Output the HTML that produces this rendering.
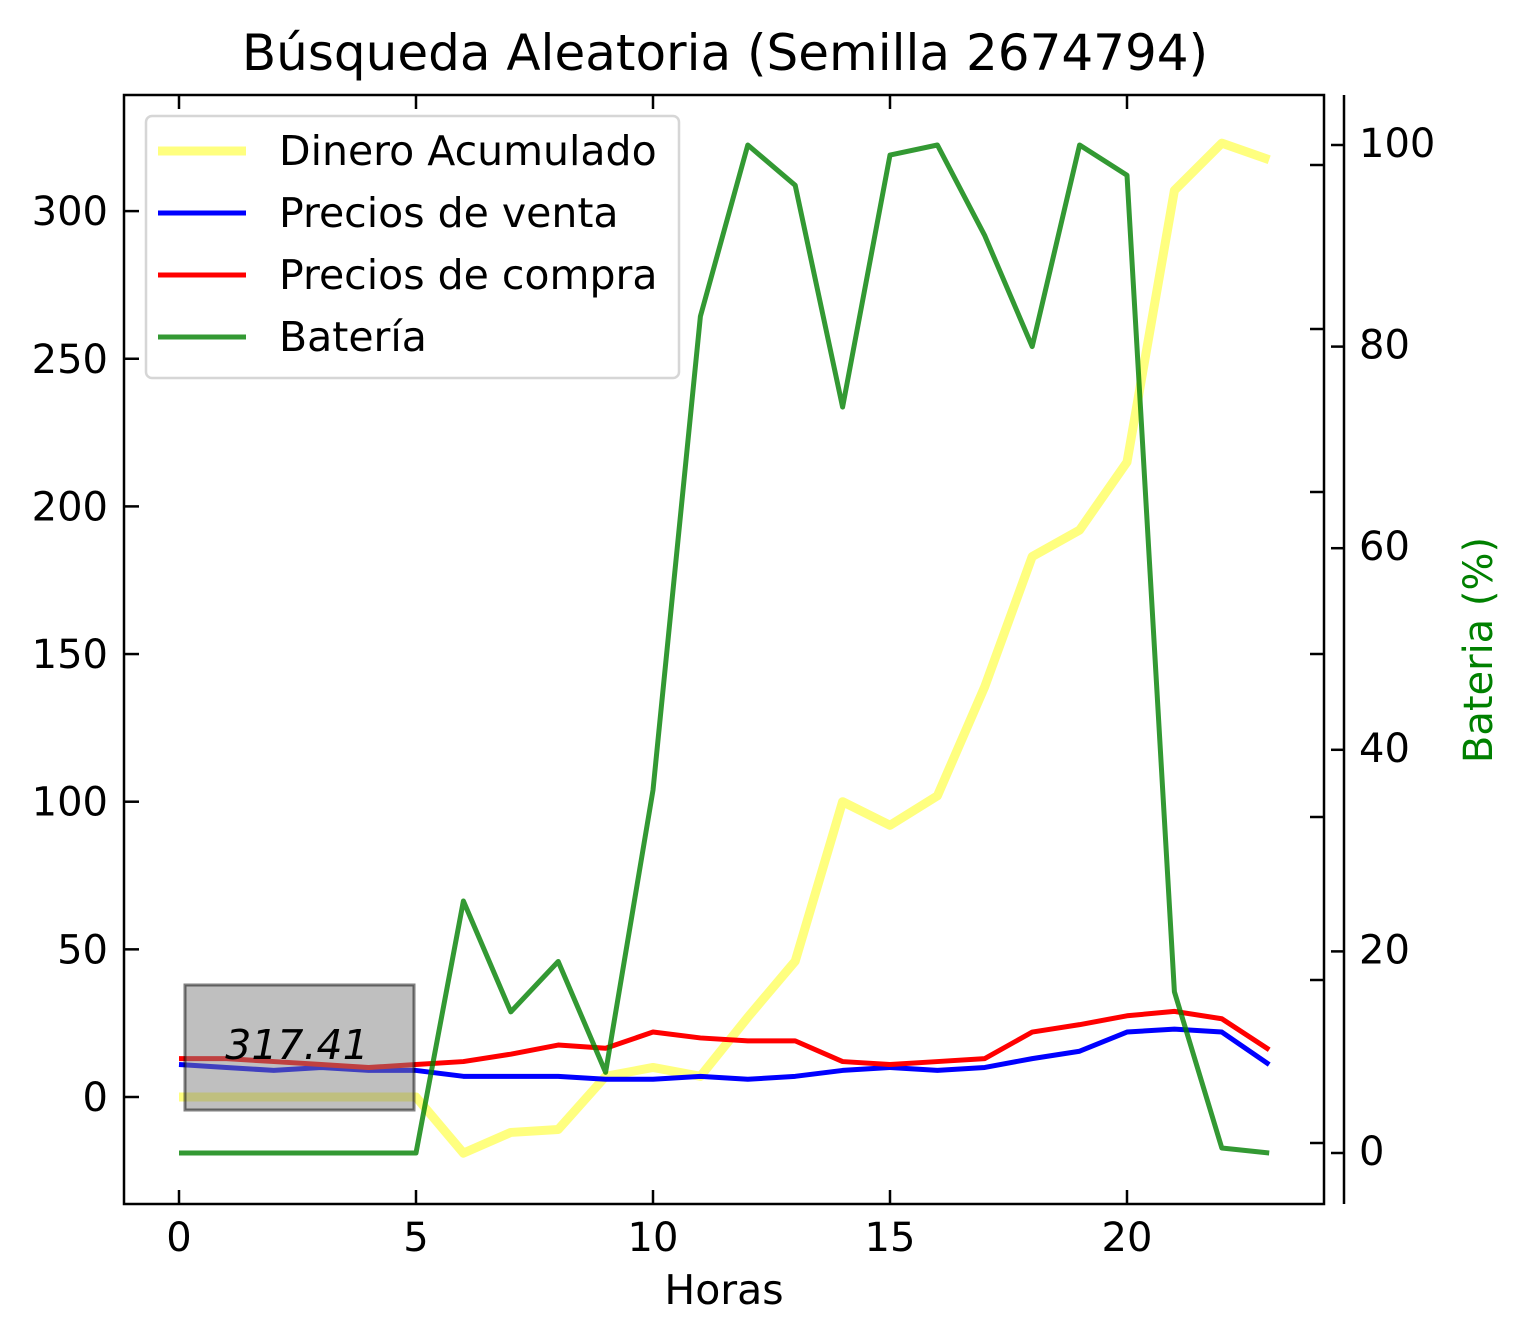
<!DOCTYPE html>
<html><head><meta charset="utf-8"><style>
html,body{margin:0;padding:0;background:#fff}
svg{display:block;font-family:"DejaVu Sans","Liberation Sans",sans-serif}
</style></head><body>
<svg id="chart" width="1531" height="1343" viewBox="0 0 1531 1343">
<g id="plot"></g>
</svg>
<script>
const hours = [0,1,2,3,4,5,6,7,8,9,10,11,12,13,14,15,16,17,18,19,20,21,22,23];
const dinero = [0,0,0,0,0,0,-19,-12,-11,7,10,7,27,46,100,92,102,139,183,192,215,307,323,317.41];
const venta = [11,10,9,10,9,9,7,7,7,6,6,7,6,7,9,10,9,10,13,15.5,22,23,22,11];
const compra = [13,13,12,11,10,11,12,14.5,17.6,16.5,22,20,19,19,12,11,12,13,22,24.5,27.5,29,26.5,16];
const bateria = [0,0,0,0,0,0,25,14,19,8,36,83,100,96,74,99,100,91,80,100,97,16,0.5,0];
const xTicks = [0,5,10,15,20];
const yTicks = [0,50,100,150,200,250,300];
const y2Ticks = [0,20,40,60,80,100];
const annotation = "317.41";

const NS="http://www.w3.org/2000/svg";
const g=document.getElementById('plot');
const X=v=>179+v*47.4;
const Y=v=>1097-v*2.953;
const Y2=v=>1153-v*10.08;
function el(t,a,parent){const e=document.createElementNS(NS,t);for(const k in a)e.setAttribute(k,a[k]);(parent||g).appendChild(e);return e;}
function txt(s,a){const e=el('text',a);e.textContent=s;return e;}

let t=txt("Búsqueda Aleatoria (Semilla 2674794)",{x:725,y:70,'font-size':50,'text-anchor':'middle'});



function line(vals,yf,color,w,op,name){
  const p=el('polyline',{points:vals.map((v,i)=>X(hours[i])+','+yf(v)).join(' '),fill:'none',stroke:color,'stroke-width':w,'stroke-opacity':op,'stroke-linejoin':'round'});
  
  
}
line(dinero,Y,'#ffff00',9,0.5,'dinero-acumulado-line');
line(venta,Y,'#0000ff',5,1,'precios-venta-line');
line(compra,Y,'#ff0000',5,1,'precios-compra-line');
line(bateria,Y2,'#008000',5,0.8,'bateria-line');

let ab=el('rect',{x:185,y:985,width:229,height:125,fill:'#808080','fill-opacity':0.5,stroke:'#000','stroke-opacity':0.5,'stroke-width':3});


let at=txt(annotation,{x:297,y:1059,'font-size':41,'font-style':'italic','text-anchor':'middle'});



let fr=el('rect',{x:124,y:95,width:1200,height:1109,fill:'none',stroke:'#000','stroke-width':2.5});


let sp=el('line',{x1:1344,y1:95,x2:1344,y2:1204,stroke:'#000','stroke-width':2.5});



xTicks.forEach(v=>{
  const x=X(v);
  el('line',{x1:x,y1:1204,x2:x,y2:1190,stroke:'#000','stroke-width':2.5});
  el('line',{x1:x,y1:95,x2:x,y2:109,stroke:'#000','stroke-width':2.5});
  const l=txt(String(v),{x:x,y:1251,'font-size':40,'text-anchor':'middle'});
  
  
});
yTicks.forEach(v=>{
  const y=Y(v);
  el('line',{x1:124,y1:y,x2:139,y2:y,stroke:'#000','stroke-width':2.5});
  const l=txt(String(v),{x:108,y:y+14,'font-size':40,'text-anchor':'end'});
  
  
});
[165,329,492,654,817,980,1143].forEach(y=>{
  el('line',{x1:1310,y1:y,x2:1324,y2:y,stroke:'#000','stroke-width':2.5});
});
y2Ticks.forEach(v=>{
  const y=Y2(v);
  el('line',{x1:1331,y1:y,x2:1344,y2:y,stroke:'#000','stroke-width':2.5});
  const l=txt(String(v),{x:1359,y:y+12,'font-size':40});
  
  
});
let xl=txt("Horas",{x:724,y:1304,'font-size':41,'text-anchor':'middle'});


let yl=txt("Bateria (%)",{x:0,y:0,'font-size':40,'text-anchor':'middle',fill:'#008000',transform:'translate(1492,650) rotate(-90)'});



let lg=el('rect',{x:146,y:116,width:533,height:262,rx:6,fill:'#fff','fill-opacity':0.8,stroke:'#d6d6d6','stroke-width':2.5});


const legNames=["Dinero Acumulado","Precios de venta","Precios de compra","Batería"];
const legColors=["#ffff00","#0000ff","#ff0000","#008000"];
const legW=[9,5,5,5],legO=[0.5,1,1,0.8];
legNames.forEach((n,i)=>{
  const y=151+i*62;
  const s=el('line',{x1:158,y1:y,x2:246,y2:y,stroke:legColors[i],'stroke-width':legW[i],'stroke-opacity':legO[i]});
  
  
  const l=txt(n,{x:279,y:y+14,'font-size':41});
  
  
});
</script>
</body></html>
